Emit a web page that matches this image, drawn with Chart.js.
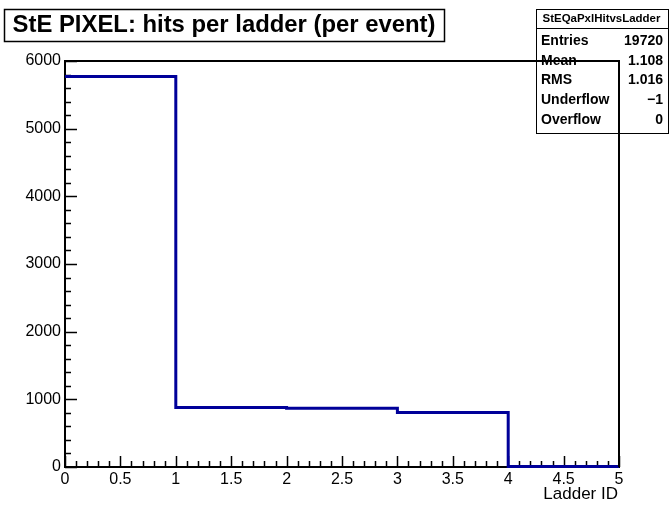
<!DOCTYPE html>
<html><head><meta charset="utf-8">
<script src="https://cdn.jsdelivr.net/npm/chart.js@4"></script>
<style>html,body{margin:0;padding:0;background:#fff;}#wrap{width:670px;height:506px;}</style>
</head><body><div id="wrap"><canvas id="c" width="670" height="506"></canvas></div>
<script>
// ---- data ----
const binEdges = [0, 1, 2, 3, 4, 5];
const binCounts = [5770, 879, 868, 805, 8];
const xTickValues = [0, 0.5, 1, 1.5, 2, 2.5, 3, 3.5, 4, 4.5, 5];
const yTickValues = [0, 1000, 2000, 3000, 4000, 5000, 6000];
const chartTitle = 'StE PIXEL: hits per ladder (per event)';
const xAxisTitle = 'Ladder ID';
const statsName = 'StEQaPxlHitvsLadder';
const statsLabels = ['Entries', 'Mean', 'RMS', 'Underflow', 'Overflow'];
const statsValues = ['19720', '1.108', '1.016', '\u22121', '0'];

const FONT = "'Liberation Sans', Arial, Helvetica, sans-serif";
const points = binEdges.map((e, i) => ({x: e, y: binCounts[Math.min(i, binCounts.length - 1)]}));

function fitFont(ctx, text, weight, width, base) {
  ctx.font = weight + ' ' + base + 'px ' + FONT;
  const w = ctx.measureText(text).width;
  return base * width / w;
}

function drawFrameLines(chart, all) {
  const {ctx, chartArea: a} = chart;
  ctx.save();
  ctx.strokeStyle = '#000';
  ctx.lineWidth = 2;
  ctx.beginPath();
  if (all) {
    ctx.rect(a.left, a.top, a.right - a.left, a.bottom - a.top);
  } else {
    ctx.moveTo(a.left, a.top); ctx.lineTo(a.right, a.top); ctx.lineTo(a.right, a.bottom);
  }
  ctx.stroke();
  ctx.restore();
}

const rootPlugin = {
  id: 'rootStyle',
  beforeDatasetsDraw(chart) {
    const {ctx, chartArea: a, scales: {x, y}} = chart;
    drawFrameLines(chart, true);
    ctx.save();
    ctx.strokeStyle = '#000';
    ctx.lineWidth = 1.5;
    ctx.beginPath();
    const yMax = yTickValues[yTickValues.length - 1];
    const yStep = (yTickValues[1] - yTickValues[0]) / 5;
    for (let v = 0; v <= yMax + 1e-6; v += yStep) {
      const major = Math.abs(v / (yStep * 5) - Math.round(v / (yStep * 5))) < 1e-6;
      const p = Math.round(y.getPixelForValue(v)) + 0.5;
      ctx.moveTo(a.left, p); ctx.lineTo(a.left + (major ? 12 : 6), p);
    }
    const xMax = xTickValues[xTickValues.length - 1];
    const xStep = (xTickValues[1] - xTickValues[0]) / 5;
    for (let i = 0; i * xStep <= xMax + 1e-6; i++) {
      const v = i * xStep;
      const major = i % 5 === 0;
      const p = Math.round(x.getPixelForValue(v)) + 0.5;
      ctx.moveTo(p, a.bottom); ctx.lineTo(p, a.bottom - (major ? 11 : 6));
    }
    ctx.stroke();
    ctx.restore();
  },
  afterDraw(chart) {
    const {ctx, chartArea: a} = chart;
    ctx.save();
    // axis title
    ctx.fillStyle = '#000';
    ctx.font = '17px ' + FONT;
    ctx.textAlign = 'right';
    ctx.textBaseline = 'middle';
    ctx.fillText(xAxisTitle, a.right - 1, 494);

    // title box
    ctx.fillStyle = '#fff';
    ctx.fillRect(4.5, 9.5, 440, 32);
    ctx.strokeStyle = '#000';
    ctx.lineWidth = 1.5;
    ctx.strokeRect(4.5, 9.5, 440, 32);
    const fs = fitFont(ctx, chartTitle, 'bold', 423, 22);
    ctx.font = 'bold ' + fs.toFixed(2) + 'px ' + FONT;
    ctx.fillStyle = '#000';
    ctx.textAlign = 'center';
    ctx.fillText(chartTitle, 224, 25);

    // stats box
    ctx.fillStyle = '#fff';
    ctx.fillRect(536.5, 9.5, 132, 124);
    ctx.lineWidth = 1;
    ctx.strokeStyle = '#000';
    ctx.strokeRect(536.5, 9.5, 132, 124);
    ctx.beginPath(); ctx.moveTo(536.5, 28.5); ctx.lineTo(668.5, 28.5); ctx.stroke();
    ctx.fillStyle = '#000';
    const hs = fitFont(ctx, statsName, 'bold', 118, 11.5);
    ctx.font = 'bold ' + hs.toFixed(2) + 'px ' + FONT;
    ctx.textAlign = 'center';
    ctx.fillText(statsName, 601.5, 19);
    ctx.font = 'bold 14px ' + FONT;
    const rowY = [41.5, 61, 80.5, 100.5, 120];
    statsLabels.forEach((lab, i) => {
      ctx.textAlign = 'left';
      ctx.fillText(lab, 541, rowY[i]);
      ctx.textAlign = 'right';
      ctx.fillText(statsValues[i], 663, rowY[i]);
    });
    ctx.restore();
    // frame drawn over stats box (as in reference)
    drawFrameLines(chart, false);
  }
};

new Chart(document.getElementById('c'), {
  type: 'line',
  data: {
    datasets: [{
      data: points,
      stepped: 'before',
      borderColor: '#000099',
      borderWidth: 3,
      pointRadius: 0,
      fill: false,
      clip: 6,
      tension: 0
    }]
  },
  options: {
    responsive: false,
    animation: false,
    devicePixelRatio: 1,
    layout: {padding: {left: 0, right: 51, top: 61, bottom: 0}},
    plugins: {legend: {display: false}, tooltip: {enabled: false}, title: {display: false}},
    scales: {
      x: {
        type: 'linear', min: 0, max: 5,
        grid: {display: false, drawTicks: false},
        border: {display: false},
        afterBuildTicks: s => { s.ticks = xTickValues.map(v => ({value: v})); },
        afterFit: s => { s.height = 39; },
        ticks: {
          padding: 3, color: '#000', maxRotation: 0, autoSkip: false,
          font: {family: FONT, size: 16},
          callback: v => String(v)
        }
      },
      y: {
        type: 'linear', min: 0, max: 6000,
        grid: {display: false, drawTicks: false},
        border: {display: false},
        afterBuildTicks: s => { s.ticks = yTickValues.map(v => ({value: v})); },
        afterFit: s => { s.width = 65; },
        ticks: {
          padding: 4, color: '#000',
          font: {family: FONT, size: 16},
          callback: v => String(v)
        }
      }
    }
  },
  plugins: [rootPlugin]
});
</script>
</body></html>
